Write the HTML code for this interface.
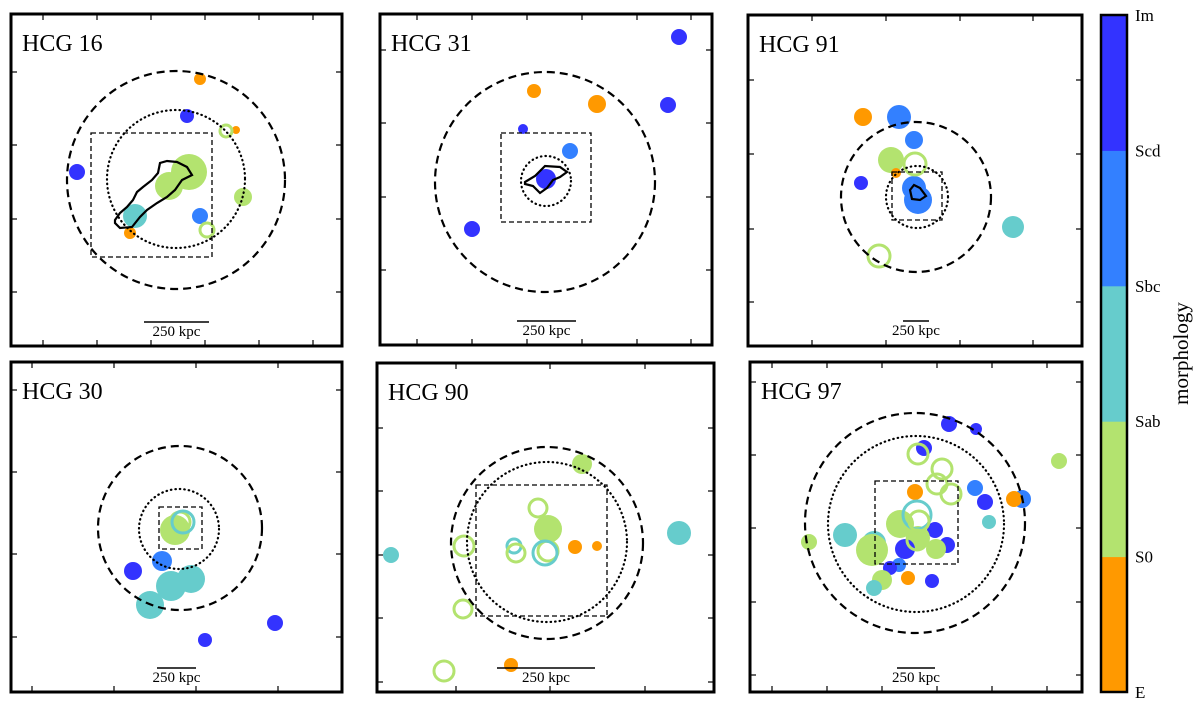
<!DOCTYPE html>
<html><head><meta charset="utf-8"><style>
html,body{margin:0;padding:0;background:#fff;}
svg{display:block;font-family:"Liberation Serif",serif;}
</style></head><body>
<svg id="fig" width="1200" height="705" viewBox="0 0 1200 705">
<g id="panels"></g>
<g id="cbar"></g>
</svg>
<script>
const NS="http://www.w3.org/2000/svg";
const morphColors=["#ff9900","#b3e36f","#66cccc","#3380ff","#3333ff"];
const morphLabels=["E","S0","Sab","Sbc","Scd","Im"];

// HCG 16
const p1x=[189,176,215,225,66,178,158,232,124,189,119,196];
const p1y=[65,102,117,116,158,158,172,183,202,202,219,216];
const p1r=[6,7,6,4,8,18,14,9,12,8,6,7];
const p1t=[0,4,1,0,4,1,1,1,2,3,0,1];
const p1o=[0,0,1,0,0,0,0,0,0,0,0,1];
// HCG 31
const p2x=[299,154,217,288,143,190,166,92];
const p2y=[23,77,90,91,115,137,165,215];
const p2r=[8,7,9,8,5,8,10,8];
const p2t=[4,0,0,4,4,3,4,4];
const p2o=[0,0,0,0,0,0,0,0];
// HCG 91
const p3x=[115,151,166,143,167,148,113,166,170,265,131];
const p3y=[102,102,125,145,149,158,168,173,185,212,241];
const p3r=[9,12,9,13,11,5,7,12,14,11,11];
const p3t=[0,3,3,1,1,0,4,3,3,2,1];
const p3o=[0,0,0,0,1,0,0,0,0,0,1];
// HCG 30
const p4x=[164,169,172,151,122,180,160,139,264,194];
const p4y=[168,160,160,199,209,217,224,243,261,278];
const p4r=[15,10,11,10,9,14,15,14,8,7];
const p4t=[1,1,2,3,4,2,2,2,4,4];
const p4o=[0,1,1,0,0,0,0,0,0,0];
// HCG 90
const p5x=[205,161,171,302,198,220,171,168,137,139,87,14,86,134,67];
const p5y=[101,145,166,170,184,183,188,190,183,190,183,192,246,302,308];
const p5r=[10,9,14,12,7,5,10,12,7,9,10,8,9,7,10];
const p5t=[1,1,1,2,0,0,1,2,2,1,1,2,1,0,1];
const p5o=[0,1,0,0,0,0,1,1,1,1,1,0,1,0,1];
// HCG 97
const p6x=[199,226,174,309,225,165,235,272,264,239,150,185,95,168,59,124,122,197,186,155,149,140,132,124,158,182,168,192,187,201,167,169,167];
const p6y=[62,67,86,99,126,130,140,137,137,160,162,168,173,176,180,181,188,183,187,187,203,206,218,226,216,219,92,107,122,132,153,159,178];
const p6r=[8,6,8,8,8,8,8,9,8,7,14,8,12,12,8,12,16,8,10,10,7,7,10,8,7,7,10,10,10,10,14,10,10];
const p6t=[4,4,4,1,3,0,4,3,0,2,1,4,2,1,1,2,1,4,1,4,3,4,1,2,0,4,1,1,1,1,2,1,1];
const p6o=[0,0,0,0,0,0,0,0,0,0,0,0,0,0,0,0,0,0,0,0,0,0,0,0,0,0,1,1,1,1,1,1,1];

const panels=[
 {name:"HCG 16",ox:11,oy:14,w:331,h:332,x:p1x,y:p1y,r:p1r,t:p1t,o:p1o,dash:[165,166,109],dot:[165,165,69],rect:[80,119,201,243],bar:[133,198,308],
  xt:[32,86,140,194,248,302],yt:[58,131,205,278],
  contour:"M104,206 L109,199 L116,193 L122,186 L126,178 L132,173 L141,166 L147,159 L149,149 L156,147 L166,148 L176,153 L181,161 L171,166 L164,176 L156,183 L146,189 L136,196 L129,203 L121,213 L109,214 L104,209 Z"},
 {name:"HCG 31",ox:380,oy:14,w:332,h:331,x:p2x,y:p2y,r:p2r,t:p2t,o:p2o,dash:[165,168,110],dot:[166,167,25],rect:[121,119,211,208],bar:[137,196,307],
  xt:[37,92,147,202,257,311],yt:[36,109,183,256],
  contour:"M145,168 L155,162 L165,152 L180,153 L187,158 L180,163 L173,166 L167,174 L160,179 L153,172 L145,170 Z"},
 {name:"HCG 91",ox:748,oy:15,w:334,h:331,x:p3x,y:p3y,r:p3r,t:p3t,o:p3o,dash:[168,182,75],dot:[169,182,31],rect:[144,157,194,205],bar:[155,181,306],
  xt:[64,138,212,285],yt:[65,139,214,287],
  contour:"M162,175 L166,170 L172,173 L178,181 L172,185 L164,184 Z"},
 {name:"HCG 30",ox:11,oy:362,w:331,h:330,x:p4x,y:p4y,r:p4r,t:p4t,o:p4o,dash:[169,166,82],dot:[168,167,40],rect:[148,145,191,187],bar:[146,185,306],
  xt:[21,103,185,267],yt:[28,110,192,275]},
 {name:"HCG 90",ox:377,oy:363,w:337,h:329,x:p5x,y:p5y,r:p5r,t:p5t,o:p5o,dash:[170,180,96],dot:[170,179,80],rect:[99,122,230,253],bar:[120,218,305],
  xt:[79,173,268],yt:[65,128,192,255,319]},
 {name:"HCG 97",ox:750,oy:362,w:332,h:330,x:p6x,y:p6y,r:p6r,t:p6t,o:p6o,dash:[165,161,110],dot:[166,162,88],rect:[125,119,208,202],bar:[147,185,306],
  xt:[22,77,132,187,242,297],yt:[20,93,166,240,313]}
];

function mk(tag,attrs,parent){const e=document.createElementNS(NS,tag);for(const k in attrs)e.setAttribute(k,attrs[k]);if(parent)parent.appendChild(e);return e;}
const root=document.getElementById("panels");
panels.forEach(p=>{
  const slug=p.name.toLowerCase().replace(" ","-");
  const sx=v=>p.ox+v, sy=v=>p.oy+v;
  const g=mk("g",{},root);
  
  
  const order=[...p.x.keys()].sort((a,b)=>p.o[a]-p.o[b]);
  order.forEach(i=>{
    const c=morphColors[p.t[i]];
    const el=mk("circle",{cx:sx(p.x[i]),cy:sy(p.y[i]),r:p.r[i],fill:p.o[i]?"none":c,stroke:p.o[i]?c:"none","stroke-width":p.o[i]?3:0},g);
    
    
  });
  if(p.contour){
    const c=mk("path",{d:p.contour,transform:`translate(${p.ox},${p.oy})`,fill:"none",stroke:"#000","stroke-width":2.2},g);
    
    
  }
  const dc=mk("circle",{cx:sx(p.dash[0]),cy:sy(p.dash[1]),r:p.dash[2],fill:"none",stroke:"#000","stroke-width":2.2,"stroke-dasharray":"8,5"},g);
  
  
  const oc=mk("circle",{cx:sx(p.dot[0]),cy:sy(p.dot[1]),r:p.dot[2],fill:"none",stroke:"#000","stroke-width":2.2,"stroke-dasharray":"0.5,4","stroke-linecap":"round"},g);
  
  
  const rc=mk("rect",{x:sx(p.rect[0]),y:sy(p.rect[1]),width:p.rect[2]-p.rect[0],height:p.rect[3]-p.rect[1],fill:"none",stroke:"#000","stroke-width":1.3,"stroke-dasharray":"5,3"},g);
  
  
  p.xt.forEach(v=>{
    const t1=mk("line",{x1:sx(v),x2:sx(v),y1:p.oy,y2:p.oy+6,stroke:"#000","stroke-width":1.2},g);
    
    
    const t2=mk("line",{x1:sx(v),x2:sx(v),y1:p.oy+p.h,y2:p.oy+p.h-6,stroke:"#000","stroke-width":1.2},g);
    
    
  });
  p.yt.forEach(v=>{
    const t1=mk("line",{x1:p.ox,x2:p.ox+6,y1:sy(v),y2:sy(v),stroke:"#000","stroke-width":1.2},g);
    
    
    const t2=mk("line",{x1:p.ox+p.w,x2:p.ox+p.w-6,y1:sy(v),y2:sy(v),stroke:"#000","stroke-width":1.2},g);
    
    
  });
  const sb=mk("line",{x1:sx(p.bar[0]),x2:sx(p.bar[1]),y1:sy(p.bar[2]),y2:sy(p.bar[2]),stroke:"#000","stroke-width":1.6},g);
  
  
  const st=mk("text",{x:sx((p.bar[0]+p.bar[1])/2),y:sy(p.bar[2]+14),"text-anchor":"middle","font-size":15},g);
  st.textContent="250 kpc";
  
  
  const fr=mk("rect",{x:p.ox,y:p.oy,width:p.w,height:p.h,fill:"none",stroke:"#000","stroke-width":3},g);
  
  
  const tt=mk("text",{x:p.ox+11,y:p.oy+37,"font-size":24},g);
  tt.textContent=p.name;
  
  
});
const cb=document.getElementById("cbar");
const cbTop=15,cbBot=692,cbX=1101,cbW=26,seg=(cbBot-cbTop)/5;
morphColors.forEach((c,i)=>{
  const r=mk("rect",{x:cbX,y:cbBot-(i+1)*seg,width:cbW,height:seg+0.5,fill:c},cb);
  
  
});
mk("rect",{x:cbX,y:cbTop,width:cbW,height:cbBot-cbTop,fill:"none",stroke:"#000","stroke-width":2.5},cb);
morphLabels.forEach((l,i)=>{
  const t=mk("text",{x:1135,y:cbBot-i*seg+6,"font-size":17},cb);
  t.textContent=l;
  
  
});
const ml=mk("text",{x:1188,y:cbTop+(cbBot-cbTop)/2,"font-size":21,"text-anchor":"middle",transform:`rotate(-90 1188 ${cbTop+(cbBot-cbTop)/2})`},cb);
ml.textContent="morphology";


</script>
</body></html>
